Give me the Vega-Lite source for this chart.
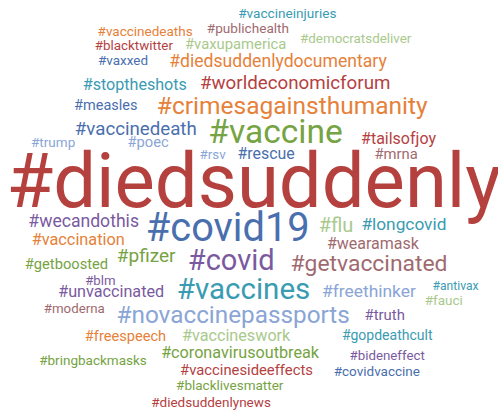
{
  "$schema": "https://vega.github.io/schema/vega-lite/v6.json",
  "width": 498,
  "height": 411,
  "padding": 0,
  "autosize": {"type": "fit", "contains": "padding"},
  "background": "white",
  "config": {"view": {"stroke": null}},
  "data": {"values": [
    {"word": "#vaccineinjuries", "x": 292, "y": 18.3, "weight": 13.6, "group": "teal"},
    {"word": "#vaccinedeaths", "x": 147.5, "y": 35.7, "weight": 13.5, "group": "orange"},
    {"word": "#publichealth", "x": 252, "y": 32.7, "weight": 13.6, "group": "mauve"},
    {"word": "#democratsdeliver", "x": 361.5, "y": 43.3, "weight": 13.4, "group": "lightgreen"},
    {"word": "#blacktwitter", "x": 136, "y": 50, "weight": 13.4, "group": "red"},
    {"word": "#vaxupamerica", "x": 239.5, "y": 48.5, "weight": 14.8, "group": "lightgreen"},
    {"word": "#vaxxed", "x": 125, "y": 65, "weight": 13.5, "group": "blue"},
    {"word": "#diedsuddenlydocumentary", "x": 282.5, "y": 66.7, "weight": 17.6, "group": "orange"},
    {"word": "#stoptheshots", "x": 137, "y": 90, "weight": 16.1, "group": "teal"},
    {"word": "#worldeconomicforum", "x": 300, "y": 89.3, "weight": 18.75, "group": "red"},
    {"word": "#measles", "x": 107.5, "y": 110, "weight": 14.5, "group": "blue"},
    {"word": "#crimesagainsthumanity", "x": 297, "y": 114, "weight": 24.5, "group": "orange"},
    {"word": "#vaccinedeath", "x": 138, "y": 135.3, "weight": 18.7, "group": "blue"},
    {"word": "#vaccine", "x": 280, "y": 143.3, "weight": 33.5, "group": "green"},
    {"word": "#tailsofjoy", "x": 405, "y": 143.5, "weight": 16, "group": "red"},
    {"word": "#trump", "x": 54, "y": 146.7, "weight": 13.5, "group": "lightblue"},
    {"word": "#poec", "x": 150.5, "y": 147, "weight": 14.7, "group": "lightblue"},
    {"word": "#rsv", "x": 216, "y": 159, "weight": 13.4, "group": "lightblue"},
    {"word": "#rescue", "x": 270.5, "y": 159, "weight": 15.9, "group": "blue"},
    {"word": "#mrna", "x": 402.5, "y": 159, "weight": 14.8, "group": "mauve"},
    {"word": "#diedsuddenly", "x": 258, "y": 207, "weight": 76, "group": "red"},
    {"word": "#wecandothis", "x": 85, "y": 227.3, "weight": 17.6, "group": "purple"},
    {"word": "#covid19", "x": 231.5, "y": 241, "weight": 39.8, "group": "blue"},
    {"word": "#flu", "x": 341.5, "y": 231.7, "weight": 20, "group": "lightgreen"},
    {"word": "#longcovid", "x": 410.5, "y": 230, "weight": 17.3, "group": "teal"},
    {"word": "#vaccination", "x": 79.5, "y": 245, "weight": 16.3, "group": "orange"},
    {"word": "#wearamask", "x": 379, "y": 249.3, "weight": 16, "group": "mauve"},
    {"word": "#pfizer", "x": 148.5, "y": 261.7, "weight": 19, "group": "green"},
    {"word": "#covid", "x": 235, "y": 270, "weight": 29, "group": "purple"},
    {"word": "#getvaccinated", "x": 375, "y": 271, "weight": 22.9, "group": "mauve"},
    {"word": "#getboosted", "x": 67.5, "y": 269.3, "weight": 14.7, "group": "green"},
    {"word": "#blm", "x": 102, "y": 285, "weight": 13.2, "group": "purple"},
    {"word": "#unvaccinated", "x": 113, "y": 296.7, "weight": 16.2, "group": "purple"},
    {"word": "#vaccines", "x": 247.5, "y": 299, "weight": 29.5, "group": "teal"},
    {"word": "#freethinker", "x": 375, "y": 296.7, "weight": 17.4, "group": "lightblue"},
    {"word": "#antivax", "x": 463, "y": 290, "weight": 12.1, "group": "teal"},
    {"word": "#fauci", "x": 451, "y": 305, "weight": 13.5, "group": "lightgreen"},
    {"word": "#moderna", "x": 75.5, "y": 313.3, "weight": 13.3, "group": "mauve"},
    {"word": "#novaccinepassports", "x": 237, "y": 323.3, "weight": 24.3, "group": "lightblue"},
    {"word": "#truth", "x": 391, "y": 320, "weight": 14.9, "group": "purple"},
    {"word": "#freespeech", "x": 127.5, "y": 341, "weight": 14.6, "group": "orange"},
    {"word": "#vaccineswork", "x": 240, "y": 341, "weight": 16.2, "group": "lightgreen"},
    {"word": "#gopdeathcult", "x": 393.5, "y": 340, "weight": 14, "group": "teal"},
    {"word": "#bringbackmasks", "x": 94.5, "y": 365, "weight": 13.5, "group": "green"},
    {"word": "#coronavirusoutbreak", "x": 244, "y": 357.7, "weight": 16.2, "group": "green"},
    {"word": "#bideneffect", "x": 393.5, "y": 360, "weight": 13.3, "group": "purple"},
    {"word": "#vaccinesideeffects", "x": 250.5, "y": 375, "weight": 14.8, "group": "red"},
    {"word": "#covidvaccine", "x": 383, "y": 375.7, "weight": 13.5, "group": "blue"},
    {"word": "#blacklivesmatter", "x": 233.5, "y": 390, "weight": 13.5, "group": "green"},
    {"word": "#diedsuddenlynews", "x": 214.5, "y": 406.7, "weight": 13.5, "group": "red"}
  ]},
  "mark": {"type": "text", "font": "Roboto", "align": "center", "baseline": "alphabetic"},
  "encoding": {
    "x": {"field": "x", "type": "quantitative", "scale": {"domain": [0, 498], "nice": false, "zero": false}, "axis": null},
    "y": {"field": "y", "type": "quantitative", "scale": {"domain": [0, 411], "nice": false, "zero": false, "reverse": true}, "axis": null},
    "size": {"field": "weight", "type": "quantitative", "scale": {"type": "linear", "domain": [0, 80], "range": [0, 80]}, "legend": null},
    "color": {"field": "group", "type": "nominal", "legend": null, "scale": {
      "domain": ["red", "orange", "blue", "teal", "green", "lightgreen", "lightblue", "purple", "mauve"],
      "range": ["#b5413f", "#e6813a", "#4a6fae", "#3a9bb2", "#76a343", "#a9c98d", "#8aa5d6", "#7a5a9f", "#9f6a6f"]}},
    "text": {"field": "word", "type": "nominal"}
  }
}
